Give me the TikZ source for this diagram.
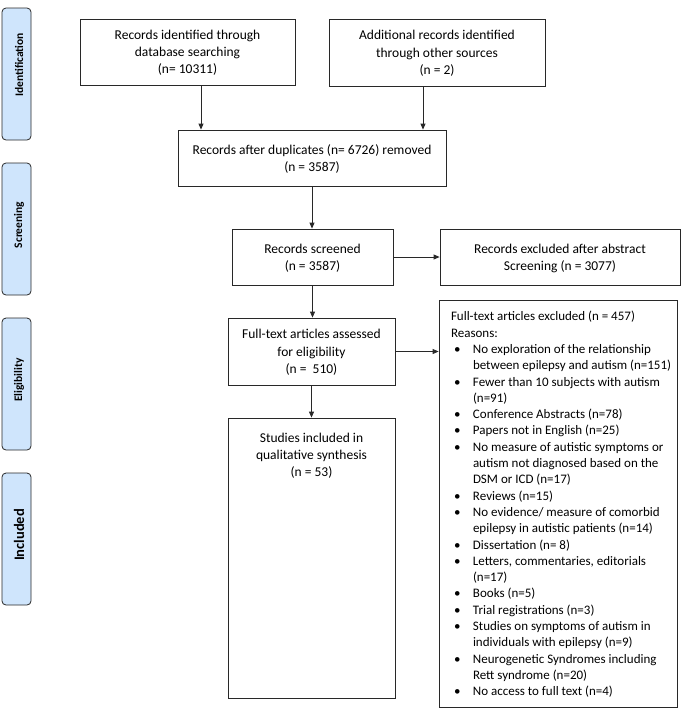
\documentclass[tikz,border=0pt]{standalone}
\usepackage{fontspec}
\setmainfont{Carlito}
\usetikzlibrary{arrows.meta,calc}
\definecolor{sidefill}{RGB}{207,229,252}
\definecolor{linec}{RGB}{40,40,40}
\newcommand\bl{\makebox[22pt][l]{\hspace{3pt}\textbullet}}
\newcommand\cl{\hspace*{22pt}}
\begin{document}
\begin{tikzpicture}[x=1pt,y=-1pt,
  box/.style={draw=linec, line width=0.8pt, align=center, inner sep=0pt, text depth=0pt, font=\fontsize{13.5}{17.2}\selectfont},
  side/.style={draw=linec, fill=sidefill, rounded corners=4pt, line width=0.8pt, minimum width=29pt, minimum height=132pt, inner sep=0pt},
  sidetext/.style={rotate=90, inner sep=0pt, font=\bfseries\fontsize{11.5}{13}\selectfont},
  arr/.style={draw=linec, line width=0.8pt, -{Triangle[length=6pt,width=5pt]}}
]
\useasboundingbox (0,0) rectangle (685,716);

% side labels
\node[side] (sid) at (16.5,74) {};
\node[sidetext] (tid) at (19,65) {Identification};
\node[side] (ssc) at (16.5,229) {};
\node[sidetext] (tsc) at (19,225) {Screening};
\node[side] (sel) at (16.5,384) {};
\node[sidetext] (tel) at (19,380) {Eligibility};
\node[side] (sin) at (16.5,539) {};
\node[sidetext, font=\bfseries\fontsize{14.5}{16}\selectfont] (tin) at (19,535) {Included};

% boxes
\node[box, minimum width=215pt, minimum height=66pt] (b1) at (187.5,52) {Records identified through\\database searching\\(n= 10311)};
\node[box, minimum width=216pt, minimum height=67pt] (b2) at (437,52.5) {Additional records identified\\through other sources\\(n = 2)};
\node[box, minimum width=268pt, minimum height=56pt] (b3) at (312,158) {Records after duplicates (n= 6726) removed\\(n = 3587)};
\node[box, minimum width=161pt, minimum height=56pt] (b4) at (312.5,257) {Records screened\\(n = 3587)};
\node[box, minimum width=240pt, minimum height=56pt] (b5) at (560,257) {Records excluded after abstract\\Screening (n = 3077)};
\node[box, minimum width=167pt, minimum height=67pt] (b6) at (311.5,351.5) {Full-text articles assessed\\for eligibility\\(n =~ 510)};
\node[box, minimum width=167pt, minimum height=280pt] (b8) at (311.5,558) {};
\node[box, draw=none, anchor=north] (t8) at ($(b8.north)+(0,15)$) {Studies included in\\qualitative synthesis\\(n = 53)};
\node[box, minimum width=238pt, minimum height=407pt] (b7) at (558,503.5) {};
\node[box, draw=none, anchor=west, align=left, font=\fontsize{13}{16.3}\selectfont] (t7) at ($(b7.west)+(12,0)$) {%
Full-text articles excluded (n = 457)\\
Reasons:\\
\bl No exploration of the relationship\\
\cl between epilepsy and autism (n=151)\\
\bl Fewer than 10 subjects with autism\\
\cl (n=91)\\
\bl Conference Abstracts (n=78)\\
\bl Papers not in English (n=25)\\
\bl No measure of autistic symptoms or\\
\cl autism not diagnosed based on the\\
\cl DSM or ICD (n=17)\\
\bl Reviews (n=15)\\
\bl No evidence/ measure of comorbid\\
\cl epilepsy in autistic patients (n=14)\\
\bl Dissertation (n= 8)\\
\bl Letters, commentaries, editorials\\
\cl (n=17)\\
\bl Books (n=5)\\
\bl Trial registrations (n=3)\\
\bl Studies on symptoms of autism in\\
\cl individuals with epilepsy (n=9)\\
\bl Neurogenetic Syndromes including\\
\cl Rett syndrome (n=20)\\
\bl No access to full text (n=4)};

% connectors
\coordinate (c1) at (201,0);
\coordinate (c2) at (423,0);
\draw[arr] (b1.south -| c1) -- (b3.north -| c1);
\draw[arr] (b2.south -| c2) -- (b3.north -| c2);
\draw[arr] (b3.south) -- (b3.south |- b4.north);
\draw[arr] (b4.east) -- (b5.west);
\draw[arr] (b4.south) -- (b4.south |- b6.north);
\draw[arr] (b6.east) -- (b6.east -| b7.west);
\draw[arr] (b6.south) -- (b6.south |- b8.north);
\end{tikzpicture}
\end{document}
